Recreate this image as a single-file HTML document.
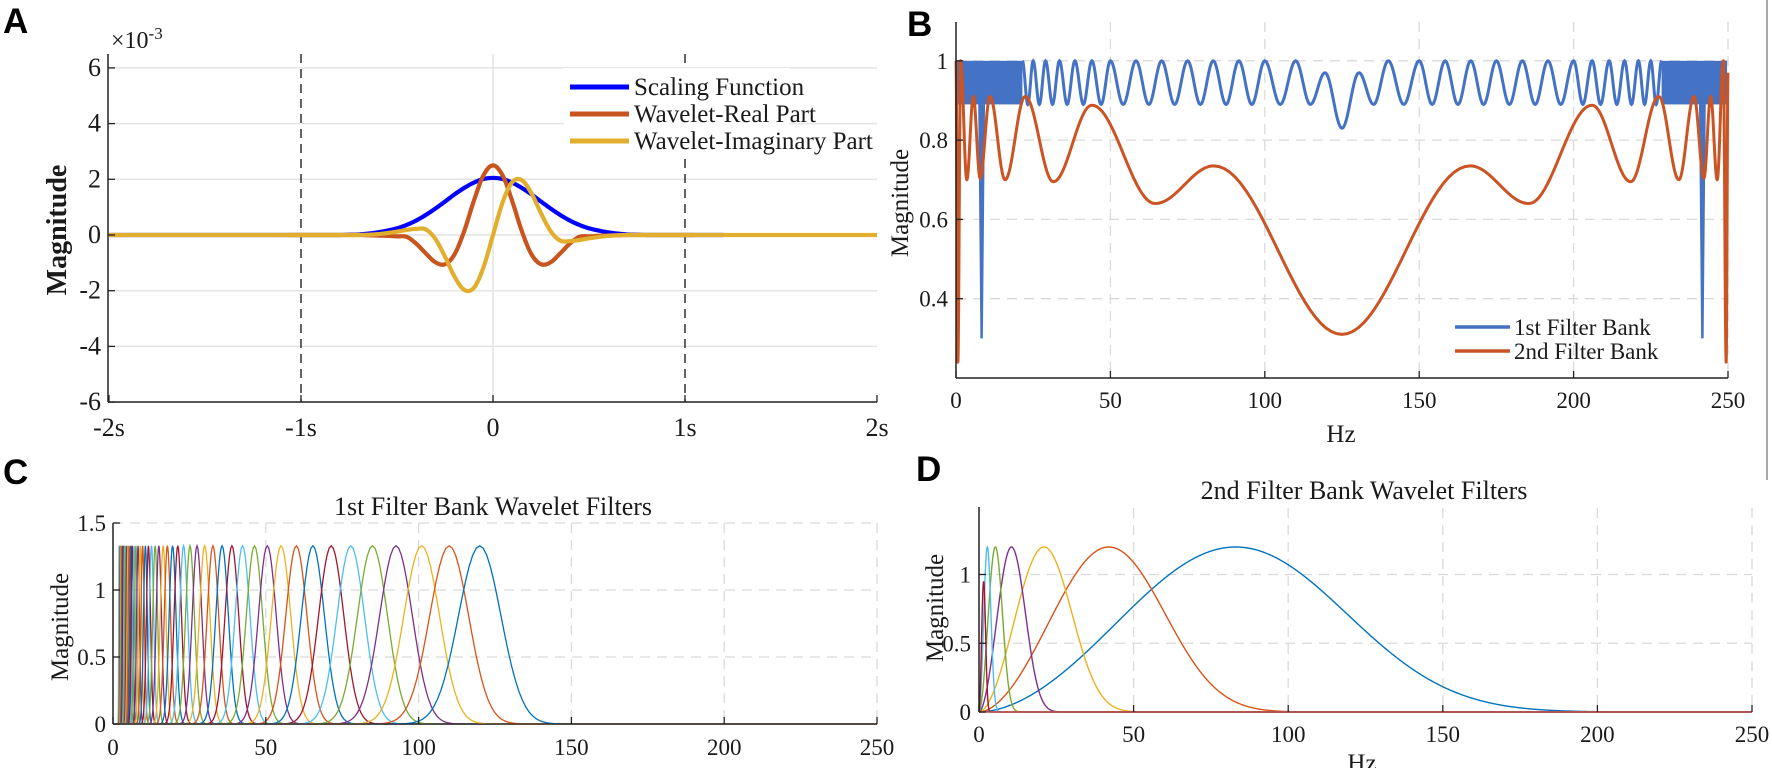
<!DOCTYPE html>
<html><head><meta charset="utf-8"><style>
html,body{margin:0;padding:0;background:#fff;}
svg{display:block;}
text{font-family:"Liberation Serif",serif;fill:#1a1a1a;}
.pl{font-family:"Liberation Sans",sans-serif;font-weight:bold;fill:#000;}
</style></head><body>
<svg id="fig" width="1772" height="768" viewBox="0 0 1772 768" xmlns="http://www.w3.org/2000/svg">
<defs>
<clipPath id="clipA"><rect x="108" y="40" width="770" height="363"/></clipPath>
<clipPath id="clipB"><rect x="954" y="15" width="776" height="364"/></clipPath>
<clipPath id="clipC"><rect x="112" y="510" width="766" height="215"/></clipPath>
<clipPath id="clipD"><rect x="978" y="500" width="776" height="213"/></clipPath>
</defs>
<line x1="1767" y1="0" x2="1767" y2="480" stroke="#8a8a8a" stroke-width="1.5"/>
<text class="pl" x="3" y="33" font-size="35">A</text>
<text class="pl" x="907" y="36" font-size="35">B</text>
<text class="pl" x="3" y="484" font-size="35">C</text>
<text class="pl" x="916" y="481" font-size="35">D</text>
<g id="gA"></g>
<g id="gB"></g>
<g id="gC"></g>
<g id="gD"></g>
</svg>
<script>
// ---------- Panel A data ----------
const aTimes = [-0.8,-0.75,-0.7,-0.65,-0.6,-0.55,-0.5,-0.45,-0.4,-0.35,-0.3,-0.25,-0.2,-0.15,-0.1,-0.05,0,0.05,0.1,0.15,0.2,0.25,0.3,0.35,0.4,0.45,0.5,0.55,0.6,0.65,0.7,0.75,0.8];
const aScaling = [0,0.01,0.02,0.05,0.095,0.16,0.24,0.36,0.52,0.72,0.95,1.2,1.46,1.69,1.88,2.01,2.05,2.01,1.88,1.69,1.46,1.2,0.95,0.72,0.52,0.36,0.24,0.16,0.095,0.05,0.02,0.01,0];
const aReal = [0,0,0,-0.01,-0.02,-0.03,-0.05,-0.065,-0.31,-0.66,-0.98,-1.05,-0.69,0.14,1.22,2.14,2.5,2.14,1.22,0.14,-0.69,-1.05,-0.98,-0.66,-0.31,-0.065,-0.05,-0.03,-0.02,-0.01,0,0,0];
const aImag = [0,0,0,0.01,0.03,0.07,0.12,0.18,0.22,0.2,-0.14,-0.78,-1.5,-1.97,-1.9,-1.17,0,1.17,1.9,1.97,1.5,0.78,0.14,-0.2,-0.22,-0.18,-0.12,-0.07,-0.03,-0.01,0,0,0];
const aSeriesStart = [-2,-1.07,-2];
const aSeriesEnd = [1.2,1.05,2];
const aLegendLabels = ["Scaling Function","Wavelet-Real Part","Wavelet-Imaginary Part"];
const aXTicks = [-2,-1,0,1,2];
const aXTickLabels = ["-2s","-1s","0","1s","2s"];
const aYTicks = [-6,-4,-2,0,2,4,6];
const aYTickLabels = ["-6","-4","-2","0","2","4","6"];
// ---------- Panel B data ----------
const bOrangeHz = [0,0.6,1.5,3.5,5.6,7.8,11,15.9,22.4,31.5,44,64.5,83.5,125];
const bOrangeVal = [1.0,0.24,1.0,0.7,0.91,0.704,0.91,0.70,0.91,0.695,0.888,0.64,0.735,0.31];
const bOrangeEndVal = 0.97;
const bBluePeakHz = [21.5,25,29,33.5,38.5,44,50,58.3,66.6,75,83.3,91.6,100,110,119.5];
const bBluePeakVal = [1,1,1,1,1,1,1,1,1,1,1,1,1,1,0.97];
const bBlueTroughVal = 0.89;
const bBlueCenterTrough = 0.83;
const bBlueSpikeHz = [8.3,241.7];
const bBlueSpikeVal = [0.3,0.3];
const bXTicks = [0,50,100,150,200,250];
const bYTicks = [0.4,0.6,0.8,1];
const bYTickLabels = ["0.4","0.6","0.8","1"];
const bLegendLabels = ["1st Filter Bank","2nd Filter Bank"];
// ---------- Panel C data ----------
const cCenterHz = [120,110,101,92.6,84.9,77.8,71.4,65.4,60,55,50.5,46.3,42.4,38.9,35.7,32.7,30,27.5,25.2,23.1,21.2,19.5,17.8,16.4,15,13.8,12.6,11.6,10.6,9.7,8.9,8.2,7.5,6.9,6.3,5.8,5.3,4.9,4.5,4.1,3.75,3.4,3.15,2.9,2.65,2.4,2.2,2.0];
const cPeak = 1.33;
const cXTicks = [0,50,100,150,200,250];
const cYTicks = [0,0.5,1,1.5];
const cYTickLabels = ["0","0.5","1","1.5"];
// ---------- Panel D data ----------
const dCenterHz = [83,42,21,10.5,5.3,2.7,1.5];
const dPeaks = [1.2,1.2,1.2,1.2,1.2,1.2,0.95];
const dXTicks = [0,50,100,150,200,250];
const dYTicks = [0,0.5,1];
const dYTickLabels = ["0","0.5","1"];

const colors = ["#0072BD","#D95319","#EDB120","#7E2F8E","#77AC30","#4DBEEE","#A2142F"];
const NS = "http://www.w3.org/2000/svg";
function el(tag, parent, attrs){const e=document.createElementNS(NS,tag);for(const k in attrs)e.setAttribute(k,attrs[k]);parent.appendChild(e);return e;}
function txt(parent,x,y,s,size,anchor){const t=el('text',parent,{x:x,y:y,'font-size':size,'text-anchor':anchor||'middle'});t.textContent=s;return t;}
function pathD(pts){return pts.map((p,i)=>(i?'L':'M')+p[0].toFixed(2)+' '+p[1].toFixed(2)).join('');}
function cosInterp(xs,ys,n){const out=[];for(let i=0;i<xs.length-1;i++){for(let k=0;k<n;k++){const u=k/n;const w=(1-Math.cos(Math.PI*u))/2;out.push([xs[i]+(xs[i+1]-xs[i])*u,ys[i]+(ys[i+1]-ys[i])*w]);}}out.push([xs[xs.length-1],ys[ys.length-1]]);return out;}
function catmull(xs,ys,n){const out=[];const N=xs.length;for(let i=0;i<N-1;i++){const y0=ys[Math.max(i-1,0)],y1=ys[i],y2=ys[i+1],y3=ys[Math.min(i+2,N-1)];for(let k=0;k<n;k++){const t=k/n;const y=0.5*((2*y1)+(-y0+y2)*t+(2*y0-5*y1+4*y2-y3)*t*t+(-y0+3*y1-3*y2+y3)*t*t*t);out.push([xs[i]+(xs[i+1]-xs[i])*t,y]);}}out.push([xs[N-1],ys[N-1]]);return out;}

// ================= Panel A =================
(function(){
const g=document.getElementById('gA');
const xA=t=>493+t*192, yA=v=>235-v*27.85;
aYTicks.forEach(v=>{const l=el('line',g,{x1:108,x2:877,y1:yA(v),y2:yA(v),stroke:'#e4e4e4','stroke-width':1.5});

});
const gz=el('line',g,{x1:xA(0),x2:xA(0),y1:54,y2:402,stroke:'#e4e4e4','stroke-width':1.5});


[-1,1].forEach(v=>{const l=el('line',g,{x1:xA(v),x2:xA(v),y1:54,y2:402,stroke:'#222','stroke-width':1.4,'stroke-dasharray':'9,6'});

});
const lb=el('rect',g,{x:564,y:68,width:225,height:90,fill:'#fff'});


const cl=el('g',g,{'clip-path':'url(#clipA)'});
const series=[aScaling,aReal,aImag];const cols=['#0000FF','#C8541E','#E2AE2E'];
const names=['scaling-function-line','wavelet-real-line','wavelet-imaginary-line'];
series.forEach((s,i)=>{
 const pts=[[xA(aSeriesStart[i]),yA(0)]];
 catmull(aTimes,s,8).forEach(p=>pts.push([xA(p[0]),yA(p[1])]));
 pts.push([xA(aSeriesEnd[i]),yA(0)]);
 const p=el('path',cl,{d:pathD(pts),fill:'none',stroke:cols[i],'stroke-width':4.2,'stroke-linejoin':'round'});
 
 
});
el('line',g,{x1:108,x2:108,y1:54,y2:402,stroke:'#222','stroke-width':1.5});
el('line',g,{x1:108,x2:877,y1:402,y2:402,stroke:'#222','stroke-width':1.5});
aXTicks.forEach((v,i)=>{el('line',g,{x1:xA(v),x2:xA(v),y1:402,y2:395,stroke:'#222','stroke-width':1.3});
 const t=txt(g,xA(v),436,aXTickLabels[i],26);
 
 });
aYTicks.forEach((v,i)=>{el('line',g,{x1:108,x2:115,y1:yA(v),y2:yA(v),stroke:'#222','stroke-width':1.3});
 const t=txt(g,101,yA(v)+8,aYTickLabels[i],26,'end');
 
 });
const ex=el('text',g,{x:111,y:48,'font-size':24});ex.innerHTML='×10<tspan dy="-9" font-size="17">-3</tspan>';


const yl=el('text',g,{x:0,y:0,'font-size':28,'font-weight':'bold','text-anchor':'middle',transform:'translate(66,230) rotate(-90)'});yl.textContent='Magnitude';


aLegendLabels.forEach((s,i)=>{const y=87+i*27;
 const l=el('line',g,{x1:570,x2:629,y1:y,y2:y,stroke:cols[i],'stroke-width':5});
 
 
 const t=txt(g,634,y+8,s,25,'start');
 
 });
})();

// ================= Panel B =================
(function(){
const g=document.getElementById('gB');
const xB=f=>956+f*3.088, yB=v=>378-(v-0.2)*396.5;
bYTicks.forEach(v=>{const l=el('line',g,{x1:956,x2:1728,y1:yB(v),y2:yB(v),stroke:'#dadada','stroke-width':1.3,'stroke-dasharray':'10,7'});
 
 });
bXTicks.slice(1).forEach(v=>{const l=el('line',g,{x1:xB(v),x2:xB(v),y1:22,y2:378,stroke:'#dadada','stroke-width':1.3,'stroke-dasharray':'10,7'});
 
 });
const cl=el('g',g,{'clip-path':'url(#clipB)'});
const bg=el('g',cl,{});


const bc='#4472C4';
const d0=bBluePeakHz[0];
[[0.3,d0],[250-d0,249.7]].forEach(r=>{el('rect',bg,{x:xB(r[0]),y:yB(1.0),width:xB(r[1])-xB(r[0]),height:yB(bBlueTroughVal)-yB(1.0),fill:bc});});
const hz=[],vv=[];
bBluePeakHz.forEach((f,i)=>{if(i>0){hz.push((bBluePeakHz[i-1]+f)/2);vv.push(bBlueTroughVal);}hz.push(f);vv.push(bBluePeakVal[i]);});
hz.push(125);vv.push(bBlueCenterTrough);
for(let i=bBluePeakHz.length-1;i>=0;i--){hz.push(250-bBluePeakHz[i]);vv.push(bBluePeakVal[i]);if(i>0){hz.push(250-(bBluePeakHz[i-1]+bBluePeakHz[i])/2);vv.push(bBlueTroughVal);}}
el('path',bg,{d:pathD(cosInterp(hz,vv,16).map(p=>[xB(p[0]),yB(p[1])])),fill:'none',stroke:bc,'stroke-width':3});
bBlueSpikeHz.forEach((f,i)=>{el('path',bg,{d:pathD([[xB(f-0.7),yB(bBlueTroughVal)],[xB(f),yB(bBlueSpikeVal[i])],[xB(f+0.7),yB(bBlueTroughVal)]]),fill:bc,stroke:bc,'stroke-width':2.5});});
const oh=bOrangeHz.slice(),ov=bOrangeVal.slice();
for(let i=bOrangeHz.length-2;i>=1;i--){oh.push(250-bOrangeHz[i]);ov.push(bOrangeVal[i]);}
oh.push(250);ov.push(bOrangeEndVal);
const op=el('path',cl,{d:pathD(cosInterp(oh,ov,24).map(p=>[xB(p[0]),yB(p[1])])),fill:'none',stroke:'#CB5424','stroke-width':3,'stroke-linejoin':'round'});


el('line',g,{x1:956,x2:956,y1:22,y2:378,stroke:'#222','stroke-width':1.5});
el('line',g,{x1:956,x2:1728,y1:378,y2:378,stroke:'#222','stroke-width':1.5});
bXTicks.forEach(v=>{el('line',g,{x1:xB(v),x2:xB(v),y1:378,y2:371,stroke:'#222','stroke-width':1.3});
 const t=txt(g,xB(v),408,String(v),23);
 
 });
bYTicks.forEach((v,i)=>{el('line',g,{x1:956,x2:963,y1:yB(v),y2:yB(v),stroke:'#222','stroke-width':1.3});
 const t=txt(g,948,yB(v)+8,bYTickLabels[i],23,'end');
 
 });
const xl=txt(g,1341,442,'Hz',25);


const yl=el('text',g,{x:0,y:0,'font-size':25,'text-anchor':'middle',transform:'translate(908,203) rotate(-90)'});yl.textContent='Magnitude';


const lc=[bc,'#CB5424'];
bLegendLabels.forEach((s,i)=>{const y=327+i*24;
 const l=el('line',g,{x1:1455,x2:1510,y1:y,y2:y,stroke:lc[i],'stroke-width':3.5});
 
 
 const t=txt(g,1514,y+8,s,23,'start');
 
 });
})();

// ================= Panel C =================
(function(){
const g=document.getElementById('gC');
const xC=f=>113+f*3.056, yC=v=>724-v*134;
cYTicks.slice(1).forEach(v=>{const l=el('line',g,{x1:113,x2:877,y1:yC(v),y2:yC(v),stroke:'#dadada','stroke-width':1.3,'stroke-dasharray':'10,7'});
 
 });
cXTicks.slice(1).forEach(v=>{const l=el('line',g,{x1:xC(v),x2:xC(v),y1:523,y2:724,stroke:'#dadada','stroke-width':1.3,'stroke-dasharray':'10,7'});
 
 });
const cl=el('g',g,{'clip-path':'url(#clipC)'});
for(let i=cCenterHz.length-1;i>=0;i--){
 const fc=cCenterHz[i], s=0.058*fc;const pts=[[xC(0),yC(0)]];
 const a=Math.max(0,fc-5*s), b=fc+5*s;
 pts.push([xC(a),yC(cPeak*Math.exp(-((a-fc)**2)/(2*s*s)))]);
 for(let k=0;k<=60;k++){const f=a+(b-a)*k/60;pts.push([xC(f),yC(cPeak*Math.exp(-((f-fc)**2)/(2*s*s)))]);}
 pts.push([xC(250),yC(0)]);
 const p=el('path',cl,{d:pathD(pts),fill:'none',stroke:colors[i%7],'stroke-width':1.3});
 
 
}
el('line',g,{x1:113,x2:113,y1:523,y2:724,stroke:'#222','stroke-width':1.5});
el('line',g,{x1:113,x2:877,y1:724,y2:724,stroke:'#222','stroke-width':1});
cXTicks.forEach(v=>{el('line',g,{x1:xC(v),x2:xC(v),y1:724,y2:717,stroke:'#222','stroke-width':1.3});
 const t=txt(g,xC(v),755,String(v),23);
 
 });
cYTicks.forEach((v,i)=>{el('line',g,{x1:113,x2:120,y1:yC(v),y2:yC(v),stroke:'#222','stroke-width':1.3});
 const t=txt(g,106,yC(v)+8,cYTickLabels[i],23,'end');
 
 });
const ti=txt(g,493,515,'1st Filter Bank Wavelet Filters',26);


const yl=el('text',g,{x:0,y:0,'font-size':25,'text-anchor':'middle',transform:'translate(68,627) rotate(-90)'});yl.textContent='Magnitude';


})();

// ================= Panel D =================
(function(){
const g=document.getElementById('gD');
const xD=f=>979+f*3.092, yD=v=>712-v*137.5;
dYTicks.slice(1).forEach(v=>{const l=el('line',g,{x1:979,x2:1752,y1:yD(v),y2:yD(v),stroke:'#dadada','stroke-width':1.3,'stroke-dasharray':'10,7'});
 
 });
dXTicks.slice(1).forEach(v=>{const l=el('line',g,{x1:xD(v),x2:xD(v),y1:508,y2:712,stroke:'#dadada','stroke-width':1.3,'stroke-dasharray':'10,7'});
 
 });
const cl=el('g',g,{'clip-path':'url(#clipD)'});
const beta=1.8,gam=3;
dCenterHz.forEach((fc,i)=>{
 const pts=[];
 for(let f=0;f<=250;f+=0.1){const u=f/fc;const v=u===0?0:dPeaks[i]*Math.pow(u,beta)*Math.exp(-(beta/gam)*(Math.pow(u,gam)-1));pts.push([xD(f),yD(v<1e-4?0:v)]);}
 const p=el('path',cl,{d:pathD(pts),fill:'none',stroke:colors[i%7],'stroke-width':1.4});
 
 
});
const bl=el('line',cl,{x1:xD(0),x2:xD(250),y1:yD(0),y2:yD(0),stroke:'#C0504D','stroke-width':1.6});


el('line',g,{x1:979,x2:979,y1:507,y2:712,stroke:'#222','stroke-width':1.5});
dXTicks.forEach(v=>{el('line',g,{x1:xD(v),x2:xD(v),y1:712,y2:705,stroke:'#222','stroke-width':1.3});
 const t=txt(g,xD(v),742,String(v),23);
 
 });
dYTicks.forEach((v,i)=>{el('line',g,{x1:979,x2:986,y1:yD(v),y2:yD(v),stroke:'#222','stroke-width':1.3});
 const t=txt(g,971,yD(v)+8,dYTickLabels[i],23,'end');
 
 });
const ti=txt(g,1364,499,'2nd Filter Bank Wavelet Filters',26);


const xl=txt(g,1362,771,'Hz',25);


const yl=el('text',g,{x:0,y:0,'font-size':25,'text-anchor':'middle',transform:'translate(943,608) rotate(-90)'});yl.textContent='Magnitude';


})();
</script>
</body></html>
